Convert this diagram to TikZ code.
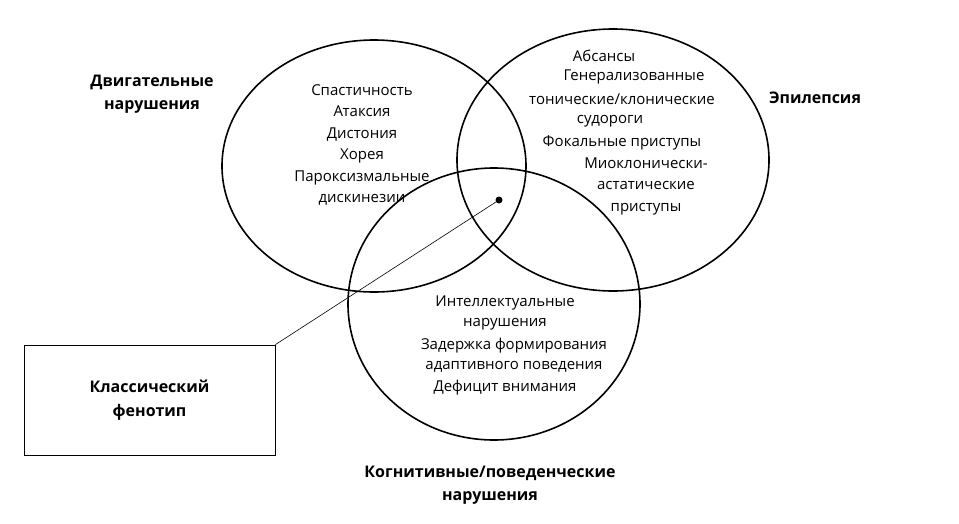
\documentclass[tikz,border=0pt]{standalone}
\usepackage{fontspec}
\setmainfont{Open Sans}
\begin{document}
\begin{tikzpicture}[x=1pt,y=-1pt,
  circ/.style={line width=1.6pt,draw=black},
  txt/.style={font=\fontsize{15}{21.5}\selectfont,align=center,inner sep=0},
  lbl/.style={font=\fontsize{16}{23}\selectfont\bfseries,align=center,inner sep=0}]
\useasboundingbox (0,0) rectangle (959,523);
\draw[circ] (374,166) ellipse [x radius=152,y radius=126];
\draw[circ] (613,160) ellipse [x radius=156,y radius=131];
\draw[circ] (494,304) ellipse [x radius=146,y radius=136];
\node[lbl] (motor) at (152,94) {Двигательные\\нарушения};
\node[lbl] (epi) at (815,98) {Эпилепсия};
\node[lbl] (cog) at (490,485) {Когнитивные/поведенческие\\нарушения};
\node[txt] (lt) at (362,145) {Спастичность\\Атаксия\\Дистония\\Хорея\\Пароксизмальные\\дискинезии};
\node[txt] (r1) at (604,56) {Абсансы};
\node[txt] (r2) at (634,77) {Генерализованные};
\node[txt] (r3) at (622,99) {тонические/клонические};
\node[txt] (r4) at (610,121) {судороги};
\node[txt] (rt2) at (622,143) {Фокальные приступы};
\node[txt] (rt3) at (646,186) {Миоклонически-\\астатические\\приступы};
\node[txt] (b1) at (505,303) {Интеллектуальные};
\node[txt] (b2) at (505,324) {нарушения};
\node[txt] (b3) at (514,346) {Задержка формирования};
\node[txt] (b4) at (514,367) {адаптивного поведения};
\node[txt] (b5) at (505,388) {Дефицит внимания};
\node[draw,line width=0.8pt,minimum width=251pt,minimum height=110pt,inner sep=0,font=\fontsize{16}{24}\selectfont\bfseries,align=center] (box) at (149.5,400) {Классический\\фенотип};
\fill (499,200) circle (3.5pt);
\coordinate (dotc) at (499,200);
\draw[line width=0.6pt] (dotc) -- (box.north east);
\end{tikzpicture}
\end{document}
